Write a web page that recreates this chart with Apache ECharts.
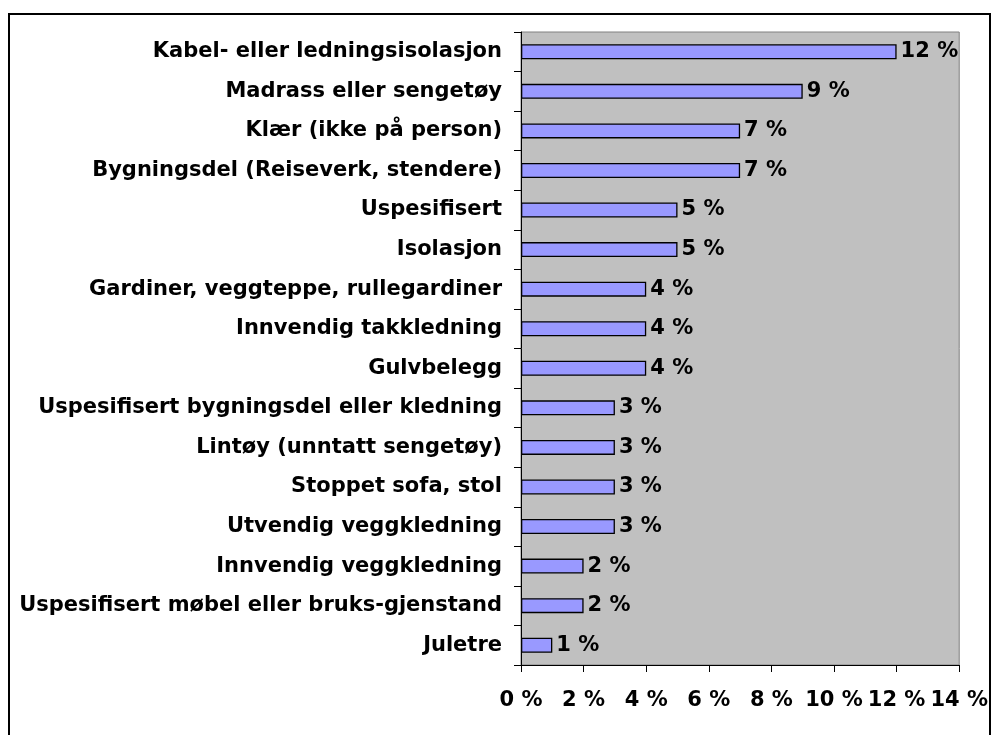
<!DOCTYPE html>
<html>
<head>
<meta charset="utf-8">
<script src="https://cdn.jsdelivr.net/npm/echarts@6/dist/echarts.min.js"></script>
<style>
  html, body { margin: 0; padding: 0; background: #fff; }
  #chart { width: 991px; height: 735px; }
</style>
</head>
<body>
<div id="chart"></div>
<script>
var categories = [
    'Kabel- eller ledningsisolasjon',
    'Madrass eller sengetøy',
    'Klær (ikke på person)',
    'Bygningsdel (Reiseverk, stendere)',
    'Uspesifisert',
    'Isolasjon',
    'Gardiner, veggteppe, rullegardiner',
    'Innvendig takkledning',
    'Gulvbelegg',
    'Uspesifisert bygningsdel eller kledning',
    'Lintøy (unntatt sengetøy)',
    'Stoppet sofa, stol',
    'Utvendig veggkledning',
    'Innvendig veggkledning',
    'Uspesifisert møbel eller bruks-gjenstand',
    'Juletre'
];
var shares = [12, 9, 7, 7, 5, 5, 4, 4, 4, 3, 3, 3, 3, 2, 2, 1];
var axisMin = 0, axisMax = 14, axisStep = 2;

var font = 'DejaVu Sans';
var chart = echarts.init(document.getElementById('chart'));
var option = {
    backgroundColor: '#ffffff',
    animation: false,
    // outer frame of the chart area
    graphic: [{
        type: 'rect',
        shape: {x: 9, y: 14, width: 981, height: 740},
        style: {fill: 'none', stroke: '#000', lineWidth: 2},
        silent: true
    }],
    grid: {
        left: 521,
        right: 29,
        top: 32,
        bottom: 70,
        show: true,
        backgroundColor: '#c0c0c0',
        borderColor: '#808080',
        borderWidth: 1
    },
    xAxis: {
        type: 'value',
        min: axisMin,
        max: axisMax,
        interval: axisStep,
        axisLine: {show: true, lineStyle: {color: '#000', width: 1}},
        axisTick: {show: true, length: 7, lineStyle: {color: '#000'}},
        splitLine: {show: false},
        axisLabel: {
            formatter: '{value} %',
            color: '#000',
            fontFamily: font,
            fontWeight: 'bold',
            fontSize: 21,
            margin: 25
        }
    },
    yAxis: {
        type: 'category',
        inverse: true,
        data: categories,
        axisLine: {show: true, lineStyle: {color: '#000', width: 1}},
        axisTick: {show: true, length: 7, lineStyle: {color: '#000'}},
        axisLabel: {
            color: '#000',
            fontFamily: font,
            fontWeight: 'bold',
            fontSize: 21,
            margin: 19
        }
    },
    series: [{
        type: 'bar',
        data: shares,
        barWidth: 15,
        itemStyle: {color: '#9999ff', borderColor: '#000', borderWidth: 1.3},
        label: {
            show: true,
            position: 'right',
            distance: 4,
            formatter: '{c} %',
            color: '#000',
            fontFamily: font,
            fontWeight: 'bold',
            fontSize: 21
        }
    }]
};
chart.setOption(option);
</script>
</body>
</html>
